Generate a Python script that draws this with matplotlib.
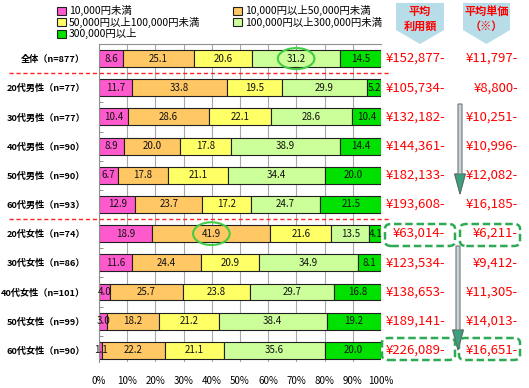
import numpy as np
import matplotlib
matplotlib.use("Agg")
import matplotlib.pyplot as plt
from matplotlib.patches import Ellipse, FancyBboxPatch, Polygon, FancyArrow

plt.rcParams['font.family'] = ['Noto Sans CJK JP', 'DejaVu Sans']

cats = ['全体（n=877）', '20代男性（n=77）', '30代男性（n=77）', '40代男性（n=90）',
        '50代男性（n=90）', '60代男性（n=93）', '20代女性（n=74）', '30代女性（n=86）',
        '40代女性（n=101）', '50代女性（n=99）', '60代女性（n=90）']
s1 = [8.6, 11.7, 10.4, 8.9, 6.7, 12.9, 18.9, 11.6, 4.0, 3.0, 1.1]
s2 = [25.1, 33.8, 28.6, 20.0, 17.8, 23.7, 41.9, 24.4, 25.7, 18.2, 22.2]
s3 = [20.6, 19.5, 22.1, 17.8, 21.1, 17.2, 21.6, 20.9, 23.8, 21.2, 21.1]
s4 = [31.2, 29.9, 28.6, 38.9, 34.4, 24.7, 13.5, 34.9, 29.7, 38.4, 35.6]
s5 = [14.5, 5.2, 10.4, 14.4, 20.0, 21.5, 4.1, 8.1, 16.8, 19.2, 20.0]
series_names = ['10,000円未満', '10,000円以上50,000円未満', '50,000円以上100,000円未満',
                '100,000円以上300,000円未満', '300,000円以上']
avg_amount = ['¥152,877-', '¥105,734-', '¥132,182-', '¥144,361-', '¥182,133-', '¥193,608-',
              '¥63,014-', '¥123,534-', '¥138,653-', '¥189,141-', '¥226,089-']
avg_price = ['¥11,797-', '¥8,800-', '¥10,251-', '¥10,996-', '¥12,082-', '¥16,185-',
             '¥6,211-', '¥9,412-', '¥11,305-', '¥14,013-', '¥16,651-']
xticks = [0, 10, 20, 30, 40, 50, 60, 70, 80, 90, 100]

colors = ['#FF5ACD', '#FFC864', '#FFFF66', '#CCFF99', '#00E100']

W, H = 529, 388
fig = plt.figure(figsize=(W / 100, H / 100), dpi=100)
ax = fig.add_axes([99 / W, 1 - 362 / H, 282 / W, 318 / H])

def px(x, y):
    return (x / W, 1 - y / H)

y = np.arange(len(cats))
left = np.zeros(len(cats))
handles = []
for vals, col, name in zip([s1, s2, s3, s4, s5], colors, series_names):
    vals = np.array(vals)
    b = ax.barh(y, vals, left=left, height=0.58, color=col, edgecolor='#202020',
                linewidth=0.8, label=name, zorder=2)
    handles.append(b)
    for yi, l, v in zip(y, left, vals):
        ax.text(l + v / 2, yi, f'{v:.1f}', ha='center', va='center', fontsize=7,
                color='#111111', zorder=3)
    left = left + vals

ax.set_xlim(0, 100)
ax.set_ylim(10.4, -0.5)
ax.set_xticks(xticks)
ax.set_xticklabels([f'{t}%' for t in xticks], fontsize=7)
ax.tick_params(axis='x', length=0, pad=10)
ax.set_yticks(y)
ax.set_yticklabels(cats, fontsize=6.6, fontweight='bold')
ax.tick_params(axis='y', length=0, pad=10)
ax.set_yticks(np.arange(len(cats) - 1) + 0.5, minor=True)
ax.tick_params(axis='y', which='minor', direction='in', length=3, color='#808080')
ax.grid(axis='x', color='#A8A8A8', linewidth=0.8, zorder=0)
for s in ['right', 'bottom']:
    ax.spines[s].set_visible(False)
for s in ['left', 'top']:
    ax.spines[s].set_color('#909090')

# red dashed separators
tr = ax.get_yaxis_transform()
for yy in [0.5, 5.5]:
    ax.plot([-0.32, 1.03], [yy, yy], transform=tr, color='#FF2020', ls=(0, (3, 2)),
            lw=1.0, clip_on=False, zorder=4)

# highlight ellipses
ax.add_patch(Ellipse((s1[0] + s2[0] + s3[0] + s4[0] / 2, 0), 13, 0.72, fill=False,
                     edgecolor='#44CC44', lw=1.5, zorder=5, clip_on=False))
ax.add_patch(Ellipse((s1[6] + s2[6] / 2, 6), 13, 0.78, fill=False,
                     edgecolor='#44CC44', lw=1.5, zorder=5, clip_on=False))

# right-hand averages
for yi, a, p in zip(y, avg_amount, avg_price):
    ax.text(1.227, yi, a, transform=tr, ha='right', va='center', fontsize=9.5,
            color='#FF0000', clip_on=False)
    ax.text(1.486, yi, p, transform=tr, ha='right', va='center', fontsize=9.5,
            color='#FF0000', clip_on=False)

# header callouts
for x0, x1, txt in [(396, 444, '平均\n利用額'), (463, 510, '平均単価\n（※）')]:
    pts = [px(x0, 3), px(x1, 3), px(x1, 30), px((x0 + x1) / 2, 44), px(x0, 30)]
    fig.add_artist(Polygon(pts, closed=True, transform=fig.transFigure,
                           facecolor='#B7DDE8', edgecolor='none'))
    fig.text(*px((x0 + x1) / 2, 19), txt, ha='center', va='center', fontsize=8,
             color='#FF0000', fontweight='bold', linespacing=1.1)

# dashed green boxes
for x0, y0, x1, y1 in [(385, 224, 455, 246), (460, 224, 520, 246),
                       (382, 338, 455, 360), (459, 338, 520, 360)]:
    fig.add_artist(FancyBboxPatch(px(x0, y1), (x1 - x0) / W, (y1 - y0) / H,
                                  boxstyle='round,pad=0,rounding_size=0.012',
                                  transform=fig.transFigure, fill=False,
                                  edgecolor='#2EAA55', lw=1.8, ls=(0, (3, 1.5))))

# gray arrows
for xa, ya0, ya1 in [(460, 104, 194), (458, 246, 350)]:
    x0, y0 = px(xa, ya0)
    x1, y1 = px(xa, ya1)
    fig.add_artist(FancyArrow(x0, y0, 0, y1 - y0, width=4 / W, head_width=11 / W,
                              head_length=20 / H, length_includes_head=True,
                              transform=fig.transFigure, facecolor='#C8D4D8',
                              edgecolor='#707878', lw=0.8))
    fig.add_artist(Polygon([px(xa - 5, ya1 - 20), px(xa + 5, ya1 - 20), px(xa, ya1)],
                           closed=True, transform=fig.transFigure,
                           facecolor='#3FA080', edgecolor='#507060', lw=0.6))

# legend
order = [0, 2, 4, 1, 3]
fig.legend([handles[i] for i in order], [series_names[i] for i in order],
           ncol=2, loc='upper left', bbox_to_anchor=px(50, -2), frameon=False,
           fontsize=7.5, handlelength=0.8, handleheight=0.8, handletextpad=0.3,
           columnspacing=3.2, labelspacing=0.05, borderpad=0.2)

fig.savefig('out.png', dpi=100)
